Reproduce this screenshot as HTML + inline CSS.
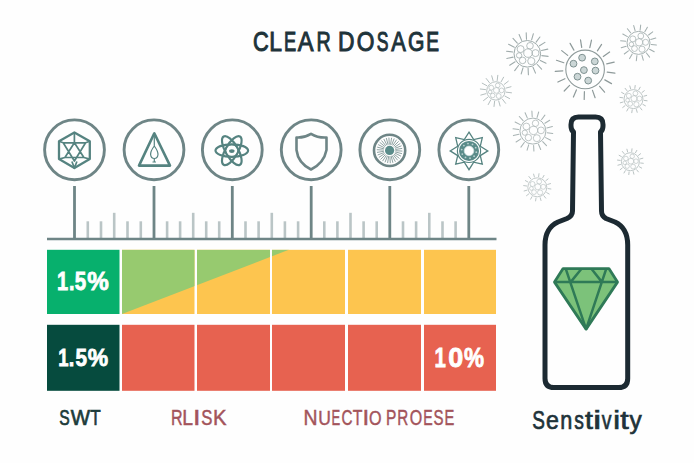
<!DOCTYPE html>
<html><head><meta charset="utf-8"><style>
html,body{margin:0;padding:0;background:#fefefe;}
svg{display:block;}
</style></head><body>
<svg width="694" height="463" viewBox="0 0 694 463">
<rect width="694" height="463" fill="#fefefe"/>
<text transform="translate(252.89 50.60) scale(0.815 1)" font-family="'Liberation Sans', sans-serif" font-size="26.74" fill="#1e333a" stroke="#1e333a" stroke-width="1.0">C</text>
<text transform="translate(269.32 50.60) scale(0.856 1)" font-family="'Liberation Sans', sans-serif" font-size="26.74" fill="#1e333a" stroke="#1e333a" stroke-width="1.0">L</text>
<text transform="translate(284.00 50.60) scale(0.683 1)" font-family="'Liberation Sans', sans-serif" font-size="26.74" fill="#1e333a" stroke="#1e333a" stroke-width="1.0">E</text>
<text transform="translate(297.75 50.60) scale(0.885 1)" font-family="'Liberation Sans', sans-serif" font-size="26.74" fill="#1e333a" stroke="#1e333a" stroke-width="1.0">A</text>
<text transform="translate(316.48 50.60) scale(0.738 1)" font-family="'Liberation Sans', sans-serif" font-size="26.74" fill="#1e333a" stroke="#1e333a" stroke-width="1.0">R</text>
<text transform="translate(337.93 50.60) scale(0.853 1)" font-family="'Liberation Sans', sans-serif" font-size="26.74" fill="#1e333a" stroke="#1e333a" stroke-width="1.0">D</text>
<text transform="translate(356.73 50.60) scale(0.849 1)" font-family="'Liberation Sans', sans-serif" font-size="26.74" fill="#1e333a" stroke="#1e333a" stroke-width="1.0">O</text>
<text transform="translate(376.69 50.60) scale(0.657 1)" font-family="'Liberation Sans', sans-serif" font-size="26.74" fill="#1e333a" stroke="#1e333a" stroke-width="1.0">S</text>
<text transform="translate(391.36 50.60) scale(0.818 1)" font-family="'Liberation Sans', sans-serif" font-size="26.74" fill="#1e333a" stroke="#1e333a" stroke-width="1.0">A</text>
<text transform="translate(407.94 50.60) scale(0.790 1)" font-family="'Liberation Sans', sans-serif" font-size="26.74" fill="#1e333a" stroke="#1e333a" stroke-width="1.0">G</text>
<text transform="translate(426.23 50.60) scale(0.717 1)" font-family="'Liberation Sans', sans-serif" font-size="26.74" fill="#1e333a" stroke="#1e333a" stroke-width="1.0">E</text>
<circle cx="74.5" cy="149.8" r="29.9" fill="none" stroke="#6e8586" stroke-width="2.9"/>
<line x1="74.5" y1="186" x2="74.5" y2="239" stroke="#6e8586" stroke-width="2.8"/>
<circle cx="154" cy="149.8" r="29.9" fill="none" stroke="#6e8586" stroke-width="2.9"/>
<line x1="154" y1="186" x2="154" y2="239" stroke="#6e8586" stroke-width="2.8"/>
<circle cx="232.3" cy="149.8" r="29.9" fill="none" stroke="#6e8586" stroke-width="2.9"/>
<line x1="232.3" y1="186" x2="232.3" y2="239" stroke="#6e8586" stroke-width="2.8"/>
<circle cx="311.2" cy="149.8" r="29.9" fill="none" stroke="#6e8586" stroke-width="2.9"/>
<line x1="311.2" y1="186" x2="311.2" y2="239" stroke="#6e8586" stroke-width="2.8"/>
<circle cx="389.8" cy="149.8" r="29.9" fill="none" stroke="#6e8586" stroke-width="2.9"/>
<line x1="389.8" y1="186" x2="389.8" y2="239" stroke="#6e8586" stroke-width="2.8"/>
<circle cx="468.8" cy="149.8" r="29.9" fill="none" stroke="#6e8586" stroke-width="2.9"/>
<line x1="468.8" y1="186" x2="468.8" y2="239" stroke="#6e8586" stroke-width="2.8"/>
<line x1="87.8" y1="221.3" x2="87.8" y2="239" stroke="#bac5c6" stroke-width="2.6"/>
<line x1="101.0" y1="221.3" x2="101.0" y2="239" stroke="#bac5c6" stroke-width="2.6"/>
<line x1="114.2" y1="212.8" x2="114.2" y2="239" stroke="#bac5c6" stroke-width="2.6"/>
<line x1="127.5" y1="221.3" x2="127.5" y2="239" stroke="#bac5c6" stroke-width="2.6"/>
<line x1="140.8" y1="221.3" x2="140.8" y2="239" stroke="#bac5c6" stroke-width="2.6"/>
<line x1="167.1" y1="221.3" x2="167.1" y2="239" stroke="#bac5c6" stroke-width="2.6"/>
<line x1="180.1" y1="221.3" x2="180.1" y2="239" stroke="#bac5c6" stroke-width="2.6"/>
<line x1="193.2" y1="212.8" x2="193.2" y2="239" stroke="#bac5c6" stroke-width="2.6"/>
<line x1="206.2" y1="221.3" x2="206.2" y2="239" stroke="#bac5c6" stroke-width="2.6"/>
<line x1="219.2" y1="221.3" x2="219.2" y2="239" stroke="#bac5c6" stroke-width="2.6"/>
<line x1="245.5" y1="221.3" x2="245.5" y2="239" stroke="#bac5c6" stroke-width="2.6"/>
<line x1="258.6" y1="221.3" x2="258.6" y2="239" stroke="#bac5c6" stroke-width="2.6"/>
<line x1="271.8" y1="212.8" x2="271.8" y2="239" stroke="#bac5c6" stroke-width="2.6"/>
<line x1="284.9" y1="221.3" x2="284.9" y2="239" stroke="#bac5c6" stroke-width="2.6"/>
<line x1="298.1" y1="221.3" x2="298.1" y2="239" stroke="#bac5c6" stroke-width="2.6"/>
<line x1="324.3" y1="221.3" x2="324.3" y2="239" stroke="#bac5c6" stroke-width="2.6"/>
<line x1="337.4" y1="221.3" x2="337.4" y2="239" stroke="#bac5c6" stroke-width="2.6"/>
<line x1="350.5" y1="212.8" x2="350.5" y2="239" stroke="#bac5c6" stroke-width="2.6"/>
<line x1="363.6" y1="221.3" x2="363.6" y2="239" stroke="#bac5c6" stroke-width="2.6"/>
<line x1="376.7" y1="221.3" x2="376.7" y2="239" stroke="#bac5c6" stroke-width="2.6"/>
<line x1="403.0" y1="221.3" x2="403.0" y2="239" stroke="#bac5c6" stroke-width="2.6"/>
<line x1="416.1" y1="221.3" x2="416.1" y2="239" stroke="#bac5c6" stroke-width="2.6"/>
<line x1="429.3" y1="212.8" x2="429.3" y2="239" stroke="#bac5c6" stroke-width="2.6"/>
<line x1="442.5" y1="221.3" x2="442.5" y2="239" stroke="#bac5c6" stroke-width="2.6"/>
<line x1="455.6" y1="221.3" x2="455.6" y2="239" stroke="#bac5c6" stroke-width="2.6"/>
<line x1="47" y1="239" x2="496.5" y2="239" stroke="#6e8586" stroke-width="2.3"/>
<rect x="47" y="249.8" width="72.5" height="64.19999999999999" fill="#07b06d"/>
<rect x="122" y="249.8" width="72.5" height="64.19999999999999" fill="#fdc54f"/>
<rect x="197" y="249.8" width="73" height="64.19999999999999" fill="#fdc54f"/>
<rect x="272" y="249.8" width="73" height="64.19999999999999" fill="#fdc54f"/>
<rect x="348" y="249.8" width="73" height="64.19999999999999" fill="#fdc54f"/>
<rect x="424" y="249.8" width="72" height="64.19999999999999" fill="#fdc54f"/>
<clipPath id="row1"><rect x="122" y="249.8" width="72.5" height="64.2"/><rect x="197" y="249.8" width="73" height="64.2"/><rect x="272" y="249.8" width="73" height="64.2"/></clipPath>
<polygon clip-path="url(#row1)" points="122,249.5 122,314 289.5,249.5" fill="#97ca6f"/>
<rect x="47" y="324.8" width="72.5" height="66.0" fill="#064b3e"/>
<rect x="122" y="324.8" width="72.5" height="66.0" fill="#e76250"/>
<rect x="197" y="324.8" width="73" height="66.0" fill="#e76250"/>
<rect x="272" y="324.8" width="73" height="66.0" fill="#e76250"/>
<rect x="348" y="324.8" width="73" height="66.0" fill="#e76250"/>
<rect x="424" y="324.8" width="72" height="66.0" fill="#e76250"/>
<text transform="translate(57.04 289.90) scale(0.777 1)" font-family="'Liberation Sans', sans-serif" font-weight="bold" font-size="25.73" fill="#ffffff" stroke="#ffffff" stroke-width="0.8">1</text>
<text transform="translate(69.05 289.90) scale(0.772 1)" font-family="'Liberation Sans', sans-serif" font-weight="bold" font-size="25.73" fill="#ffffff" stroke="#ffffff" stroke-width="0.8">.</text>
<text transform="translate(74.86 289.90) scale(0.798 1)" font-family="'Liberation Sans', sans-serif" font-weight="bold" font-size="25.73" fill="#ffffff" stroke="#ffffff" stroke-width="0.8">5</text>
<text transform="translate(87.19 289.90) scale(0.942 1)" font-family="'Liberation Sans', sans-serif" font-weight="bold" font-size="25.73" fill="#ffffff" stroke="#ffffff" stroke-width="0.8">%</text>
<text transform="translate(58.13 365.60) scale(0.762 1)" font-family="'Liberation Sans', sans-serif" font-weight="bold" font-size="24.27" fill="#ffffff" stroke="#ffffff" stroke-width="0.8">1</text>
<text transform="translate(68.85 365.60) scale(0.818 1)" font-family="'Liberation Sans', sans-serif" font-weight="bold" font-size="24.27" fill="#ffffff" stroke="#ffffff" stroke-width="0.8">.</text>
<text transform="translate(75.46 365.60) scale(0.854 1)" font-family="'Liberation Sans', sans-serif" font-weight="bold" font-size="24.27" fill="#ffffff" stroke="#ffffff" stroke-width="0.8">5</text>
<text transform="translate(87.63 365.60) scale(0.944 1)" font-family="'Liberation Sans', sans-serif" font-weight="bold" font-size="24.27" fill="#ffffff" stroke="#ffffff" stroke-width="0.8">%</text>
<text transform="translate(434.61 366.60) scale(0.764 1)" font-family="'Liberation Sans', sans-serif" font-weight="bold" font-size="26.74" fill="#ffffff" stroke="#ffffff" stroke-width="0.8">1</text>
<text transform="translate(448.22 366.60) scale(1.008 1)" font-family="'Liberation Sans', sans-serif" font-weight="bold" font-size="26.74" fill="#ffffff" stroke="#ffffff" stroke-width="0.8">0</text>
<text transform="translate(463.94 366.60) scale(0.843 1)" font-family="'Liberation Sans', sans-serif" font-weight="bold" font-size="26.74" fill="#ffffff" stroke="#ffffff" stroke-width="0.8">%</text>
<text transform="translate(59.33 425.45) scale(0.695 1)" font-family="'Liberation Sans', sans-serif" font-size="22.53" fill="#1c3b3a" stroke="#1c3b3a" stroke-width="0.7">S</text>
<text transform="translate(70.75 425.45) scale(0.907 1)" font-family="'Liberation Sans', sans-serif" font-size="22.53" fill="#1c3b3a" stroke="#1c3b3a" stroke-width="0.7">W</text>
<text transform="translate(90.27 425.45) scale(0.761 1)" font-family="'Liberation Sans', sans-serif" font-size="22.53" fill="#1c3b3a" stroke="#1c3b3a" stroke-width="0.7">T</text>
<text transform="translate(171.00 425.47) scale(0.731 1)" font-family="'Liberation Sans', sans-serif" font-size="22.02" fill="#a3545b" stroke="#a3545b" stroke-width="0.45">R</text>
<text transform="translate(182.34 425.47) scale(0.880 1)" font-family="'Liberation Sans', sans-serif" font-size="22.02" fill="#a3545b" stroke="#a3545b" stroke-width="0.45">L</text>
<text transform="translate(193.03 425.47) scale(1.232 1)" font-family="'Liberation Sans', sans-serif" font-size="22.02" fill="#a3545b" stroke="#a3545b" stroke-width="0.45">I</text>
<text transform="translate(201.25 425.47) scale(0.762 1)" font-family="'Liberation Sans', sans-serif" font-size="22.02" fill="#a3545b" stroke="#a3545b" stroke-width="0.45">S</text>
<text transform="translate(212.96 425.47) scale(0.923 1)" font-family="'Liberation Sans', sans-serif" font-size="22.02" fill="#a3545b" stroke="#a3545b" stroke-width="0.45">K</text>
<text transform="translate(303.53 424.77) scale(0.918 1)" font-family="'Liberation Sans', sans-serif" font-size="21.15" fill="#a3545b" stroke="#a3545b" stroke-width="0.45">N</text>
<text transform="translate(318.28 424.77) scale(0.828 1)" font-family="'Liberation Sans', sans-serif" font-size="21.15" fill="#a3545b" stroke="#a3545b" stroke-width="0.45">U</text>
<text transform="translate(331.56 424.77) scale(0.615 1)" font-family="'Liberation Sans', sans-serif" font-size="21.15" fill="#a3545b" stroke="#a3545b" stroke-width="0.45">E</text>
<text transform="translate(341.55 424.77) scale(0.721 1)" font-family="'Liberation Sans', sans-serif" font-size="21.15" fill="#a3545b" stroke="#a3545b" stroke-width="0.45">C</text>
<text transform="translate(352.68 424.77) scale(0.748 1)" font-family="'Liberation Sans', sans-serif" font-size="21.15" fill="#a3545b" stroke="#a3545b" stroke-width="0.45">T</text>
<text transform="translate(362.52 424.77) scale(1.132 1)" font-family="'Liberation Sans', sans-serif" font-size="21.15" fill="#a3545b" stroke="#a3545b" stroke-width="0.45">I</text>
<text transform="translate(368.96 424.77) scale(0.765 1)" font-family="'Liberation Sans', sans-serif" font-size="21.15" fill="#a3545b" stroke="#a3545b" stroke-width="0.45">O</text>
<text transform="translate(385.95 424.77) scale(0.733 1)" font-family="'Liberation Sans', sans-serif" font-size="21.15" fill="#a3545b" stroke="#a3545b" stroke-width="0.45">P</text>
<text transform="translate(397.27 424.77) scale(0.722 1)" font-family="'Liberation Sans', sans-serif" font-size="21.15" fill="#a3545b" stroke="#a3545b" stroke-width="0.45">R</text>
<text transform="translate(409.87 424.77) scale(0.758 1)" font-family="'Liberation Sans', sans-serif" font-size="21.15" fill="#a3545b" stroke="#a3545b" stroke-width="0.45">O</text>
<text transform="translate(423.27 424.77) scale(0.667 1)" font-family="'Liberation Sans', sans-serif" font-size="21.15" fill="#a3545b" stroke="#a3545b" stroke-width="0.45">E</text>
<text transform="translate(433.43 424.77) scale(0.711 1)" font-family="'Liberation Sans', sans-serif" font-size="21.15" fill="#a3545b" stroke="#a3545b" stroke-width="0.45">S</text>
<text transform="translate(444.62 424.77) scale(0.694 1)" font-family="'Liberation Sans', sans-serif" font-size="21.15" fill="#a3545b" stroke="#a3545b" stroke-width="0.45">E</text>
<text transform="translate(532.28 429.15) scale(0.735 1)" font-family="'Liberation Sans', sans-serif" font-size="25.80" fill="#1e333a" stroke="#1e333a" stroke-width="0.7">S</text>
<text transform="translate(545.98 429.15) scale(0.899 1)" font-family="'Liberation Sans', sans-serif" font-size="25.80" fill="#1e333a" stroke="#1e333a" stroke-width="0.7">e</text>
<text transform="translate(560.22 429.15) scale(0.839 1)" font-family="'Liberation Sans', sans-serif" font-size="25.80" fill="#1e333a" stroke="#1e333a" stroke-width="0.7">n</text>
<text transform="translate(574.31 429.15) scale(0.747 1)" font-family="'Liberation Sans', sans-serif" font-size="25.80" fill="#1e333a" stroke="#1e333a" stroke-width="0.7">s</text>
<text transform="translate(585.02 429.15) scale(1.105 1)" font-family="'Liberation Sans', sans-serif" font-size="25.80" fill="#1e333a" stroke="#1e333a" stroke-width="0.7">t</text>
<text transform="translate(593.29 429.15) scale(1.365 1)" font-family="'Liberation Sans', sans-serif" font-size="25.80" fill="#1e333a" stroke="#1e333a" stroke-width="0.7">i</text>
<text transform="translate(601.77 429.15) scale(0.756 1)" font-family="'Liberation Sans', sans-serif" font-size="25.80" fill="#1e333a" stroke="#1e333a" stroke-width="0.7">v</text>
<text transform="translate(613.19 429.15) scale(1.189 1)" font-family="'Liberation Sans', sans-serif" font-size="25.80" fill="#1e333a" stroke="#1e333a" stroke-width="0.7">i</text>
<text transform="translate(620.29 429.15) scale(1.181 1)" font-family="'Liberation Sans', sans-serif" font-size="25.80" fill="#1e333a" stroke="#1e333a" stroke-width="0.7">t</text>
<text transform="translate(629.58 429.15) scale(0.947 1)" font-family="'Liberation Sans', sans-serif" font-size="25.80" fill="#1e333a" stroke="#1e333a" stroke-width="0.7">y</text>
<path d="M 573.5 132 L 572.5 211 Q 572.5 216 567 218.5 L 558 222 Q 545 228 545 245 L 545 378.5 Q 545 387.6 554 387.6 L 618.7 387.6 Q 627.7 387.6 627.7 378.5 L 627.7 245 Q 627.7 228 615 222 L 606 218.5 Q 601.5 216 601.5 211 L 600.5 132 Q 603 130 603 126 L 603 124.5 Q 603 117 595.5 117 L 578.5 117 Q 571 117 571 124.5 L 571 126 Q 571 130 573.5 132 Z" fill="none" stroke="#1c2a32" stroke-width="5" stroke-linejoin="round"/>
<polygon points="563.1,268.6 608.9,268.6 617.5,282.1 586.1,329.1 554.5,282.1" fill="#7cc27a" stroke="#2f7a57" stroke-width="2.8" stroke-linejoin="round"/>
<path d="M554.5 282.1 L617.5 282.1 M565.7 268.6 L586.1 329.1 M606.3 268.6 L586.1 329.1 M581.3 269 L570.6 282.1 M591.6 269 L602 282.1" fill="none" stroke="#2f7a57" stroke-width="2.5"/>
<polygon points="74.4,132.4 89.8,141.3 89.8,159.1 74.4,168.0 59.0,159.1 59.0,141.3" fill="none" stroke="#558380" stroke-width="2.3" stroke-linejoin="round"/>
<path d="M63.2 142.8 L85.60000000000001 142.8 M74.4 132.39999999999998 L74.4 142.8 M63.2 142.8 L74.4 161 L85.60000000000001 142.8 M74.4 142.8 L64.9 157.5 L83.9 157.5 Z M71.9 161.5 L74.4 168.0 L76.9 161.5 M59.00000000000001 159.1 L64.9 157.5 M89.80000000000001 159.1 L83.9 157.5 M59.00000000000001 141.29999999999998 L63.2 142.8 M89.80000000000001 141.29999999999998 L85.60000000000001 142.8" fill="none" stroke="#558380" stroke-width="1.7" stroke-linejoin="round"/>
<polygon points="154.3,133.3 139,165.6 170,165.6" fill="none" stroke="#558380" stroke-width="2.6" stroke-linejoin="round"/>
<path d="M154.3 135 L154.3 146 M154.3 146 Q150.5 151 150.6 154.5 Q151 158.5 154.3 158.5 Q157.6 158.5 158 154.5 Q158 151 154.3 146 M154.3 158.5 L154.3 162 M152.5 162 L156 162" fill="none" stroke="#558380" stroke-width="1.2"/>
<ellipse cx="231.8" cy="150.6" rx="16.3" ry="6.3" transform="rotate(0 231.8 150.6)" fill="none" stroke="#558380" stroke-width="2.2"/>
<ellipse cx="231.8" cy="150.6" rx="16.3" ry="6.3" transform="rotate(60 231.8 150.6)" fill="none" stroke="#558380" stroke-width="2.2"/>
<ellipse cx="231.8" cy="150.6" rx="16.3" ry="6.3" transform="rotate(120 231.8 150.6)" fill="none" stroke="#558380" stroke-width="2.2"/>
<circle cx="231.8" cy="150.6" r="6.2" fill="none" stroke="#558380" stroke-width="1.3"/>
<ellipse cx="231.8" cy="151.1" rx="2.8" ry="1.9" fill="#558380"/>
<path d="M311 133.8 Q304 138 296.5 137.5 L296.5 150 Q298 163 311 169.5 Q324 163 326.5 150 L326.5 137.5 Q318 138 311 133.8 Z" fill="none" stroke="#6e8586" stroke-width="2.6" stroke-linejoin="round"/>
<circle cx="389.6" cy="150.4" r="15.6" fill="none" stroke="#6e8586" stroke-width="2.6"/>
<path d="M395.4 150.7 L402.4 151.1 M395.2 151.9 L402.0 153.7 M394.8 153.0 L401.0 156.2 M394.1 154.1 L399.5 158.5 M393.3 154.9 L397.7 160.3 M392.2 155.6 L395.4 161.8 M391.1 156.0 L392.9 162.8 M389.9 156.2 L390.3 163.2 M388.7 156.1 L387.6 163.0 M387.5 155.8 L385.0 162.3 M386.4 155.3 L382.6 161.1 M385.5 154.5 L380.5 159.5 M384.7 153.6 L378.9 157.4 M384.2 152.5 L377.7 155.0 M383.9 151.3 L377.0 152.4 M383.8 150.1 L376.8 149.7 M384.0 148.9 L377.2 147.1 M384.4 147.8 L378.2 144.6 M385.1 146.7 L379.7 142.3 M385.9 145.9 L381.5 140.5 M387.0 145.2 L383.8 139.0 M388.1 144.8 L386.3 138.0 M389.3 144.6 L388.9 137.6 M390.5 144.7 L391.6 137.8 M391.7 145.0 L394.2 138.5 M392.8 145.5 L396.6 139.7 M393.7 146.3 L398.7 141.3 M394.5 147.2 L400.3 143.4 M395.0 148.3 L401.5 145.8 M395.3 149.5 L402.2 148.4" stroke="#8fa3a3" stroke-width="1"/>
<circle cx="389.6" cy="150.4" r="4.6" fill="#5a8c8a"/>
<polygon points="469.0,132.1 473.7,139.6 482.3,137.6 480.3,146.2 487.8,150.9 480.3,155.6 482.3,164.2 473.7,162.2 469.0,169.7 464.3,162.2 455.7,164.2 457.7,155.6 450.2,150.9 457.7,146.2 455.7,137.6 464.3,139.6" fill="#ffffff" stroke="#558380" stroke-width="1.3" stroke-linejoin="miter"/>
<circle cx="469" cy="150.9" r="11.6" fill="#ffffff" stroke="#558380" stroke-width="1.2"/>
<circle cx="469" cy="150.9" r="10" fill="#5a8b89"/>
<circle cx="469" cy="150.9" r="4.8" fill="#ffffff" stroke="#cfe0e0" stroke-width="0.8"/>
<circle cx="476.3" cy="152.2" r="0.9" fill="#bcd2d2"/>
<circle cx="474.1" cy="156.2" r="0.9" fill="#bcd2d2"/>
<circle cx="470.0" cy="158.2" r="0.9" fill="#bcd2d2"/>
<circle cx="465.5" cy="157.4" r="0.9" fill="#bcd2d2"/>
<circle cx="462.3" cy="154.1" r="0.9" fill="#bcd2d2"/>
<circle cx="461.7" cy="149.6" r="0.9" fill="#bcd2d2"/>
<circle cx="463.9" cy="145.6" r="0.9" fill="#bcd2d2"/>
<circle cx="468.0" cy="143.6" r="0.9" fill="#bcd2d2"/>
<circle cx="472.5" cy="144.4" r="0.9" fill="#bcd2d2"/>
<circle cx="475.7" cy="147.7" r="0.9" fill="#bcd2d2"/>
<circle cx="585.1" cy="69.4" r="19.3" fill="none" stroke="#8e9a9a" stroke-width="1.1"/>
<path d="M607.2 72.1 L614.9 73.1 M604.8 79.9 L611.5 83.6 M599.6 86.3 L604.6 92.2 M592.5 90.4 L595.1 97.7 M584.4 91.7 L584.2 99.4 M576.4 89.9 L573.4 97.0 M569.6 85.4 L564.2 91.0 M564.9 78.7 L557.9 82.0 M562.8 70.8 L555.2 71.3 M563.8 62.7 L556.5 60.3 M567.7 55.4 L561.7 50.6 M573.9 50.1 L570.1 43.4 M581.7 47.4 L580.5 39.8 M589.8 47.6 L591.5 40.1 M597.4 50.8 L601.6 44.4 M603.3 56.5 L609.6 52.0 M606.7 63.9 L614.2 62.1" stroke="#8e9a9a" stroke-width="1.21" stroke-linecap="round"/>
<circle cx="582.1" cy="57.7" r="3.4" fill="#cbd6d6" stroke="#7f9191" stroke-width="1"/>
<circle cx="573.5" cy="63.7" r="3.4" fill="#cbd6d6" stroke="#7f9191" stroke-width="1"/>
<circle cx="594.8000000000001" cy="61.400000000000006" r="3.4" fill="#cbd6d6" stroke="#7f9191" stroke-width="1"/>
<circle cx="583.9" cy="70.10000000000001" r="3.4" fill="#cbd6d6" stroke="#7f9191" stroke-width="1"/>
<circle cx="595.5" cy="70.60000000000001" r="3.4" fill="#cbd6d6" stroke="#7f9191" stroke-width="1"/>
<circle cx="577.5" cy="76.7" r="3.4" fill="#cbd6d6" stroke="#7f9191" stroke-width="1"/>
<circle cx="588.2" cy="80.60000000000001" r="3.4" fill="#cbd6d6" stroke="#7f9191" stroke-width="1"/>
<circle cx="527.3" cy="53.8" r="13.3" fill="none" stroke="#9fabab" stroke-width="1.0"/>
<path d="M541.8 55.6 L548.1 56.4 M540.3 60.4 L546.0 63.3 M537.3 64.5 L541.6 69.2 M533.0 67.2 L535.5 73.1 M528.1 68.4 L528.4 74.8 M523.0 67.8 L521.2 73.9 M518.5 65.5 L514.7 70.6 M515.1 61.8 L509.7 65.2 M513.1 57.1 L506.8 58.5 M512.8 52.0 L506.5 51.2 M514.3 47.2 L508.6 44.3 M517.3 43.1 L513.0 38.4 M521.6 40.4 L519.1 34.5 M526.5 39.2 L526.2 32.8 M531.6 39.8 L533.4 33.7 M536.1 42.1 L539.9 37.0 M539.5 45.8 L544.9 42.4 M541.5 50.5 L547.8 49.1" stroke="#9fabab" stroke-width="1.10" stroke-linecap="round"/>
<circle cx="528.0" cy="53.1" r="4.3" fill="none" stroke="#9fabab" stroke-width="0.75"/>
<circle cx="520.6" cy="49.1" r="3.5" fill="none" stroke="#9fabab" stroke-width="0.75"/>
<circle cx="530.0" cy="45.8" r="3.3" fill="none" stroke="#9fabab" stroke-width="0.75"/>
<circle cx="535.5" cy="53.1" r="3.5" fill="none" stroke="#9fabab" stroke-width="0.75"/>
<circle cx="531.3" cy="61.1" r="3.6" fill="none" stroke="#9fabab" stroke-width="0.75"/>
<circle cx="522.6" cy="60.4" r="3.3" fill="none" stroke="#9fabab" stroke-width="0.75"/>
<circle cx="519.1" cy="55.4" r="2.7" fill="none" stroke="#9fabab" stroke-width="0.75"/>
<circle cx="638.5" cy="42.9" r="11.5" fill="none" stroke="#a3afaf" stroke-width="0.95"/>
<path d="M651.2 44.5 L656.4 45.1 M649.6 49.2 L654.2 51.8 M646.4 53.0 L649.6 57.1 M641.9 55.2 L643.3 60.2 M636.9 55.6 L636.3 60.8 M632.2 54.0 L629.6 58.6 M628.4 50.8 L624.3 54.0 M626.2 46.3 L621.2 47.7 M625.8 41.3 L620.6 40.7 M627.4 36.6 L622.8 34.0 M630.6 32.8 L627.4 28.7 M635.1 30.6 L633.7 25.6 M640.1 30.2 L640.7 25.0 M644.8 31.8 L647.4 27.2 M648.6 35.0 L652.7 31.8 M650.8 39.5 L655.8 38.1" stroke="#a3afaf" stroke-width="1.04" stroke-linecap="round"/>
<circle cx="639.1" cy="42.3" r="3.7" fill="none" stroke="#a3afaf" stroke-width="0.71"/>
<circle cx="632.8" cy="38.9" r="3.0" fill="none" stroke="#a3afaf" stroke-width="0.71"/>
<circle cx="640.8" cy="36.0" r="2.9" fill="none" stroke="#a3afaf" stroke-width="0.71"/>
<circle cx="645.6" cy="42.3" r="3.0" fill="none" stroke="#a3afaf" stroke-width="0.71"/>
<circle cx="642.0" cy="49.2" r="3.1" fill="none" stroke="#a3afaf" stroke-width="0.71"/>
<circle cx="634.5" cy="48.6" r="2.9" fill="none" stroke="#a3afaf" stroke-width="0.71"/>
<circle cx="631.4" cy="44.3" r="2.3" fill="none" stroke="#a3afaf" stroke-width="0.71"/>
<circle cx="495.9" cy="90.9" r="9.2" fill="none" stroke="#b3bdbd" stroke-width="0.9"/>
<path d="M506.3 92.2 L511.5 92.8 M505.0 96.1 L509.6 98.6 M502.4 99.2 L505.6 103.3 M498.7 101.0 L500.1 106.0 M494.6 101.3 L494.0 106.5 M490.7 100.0 L488.2 104.6 M487.6 97.4 L483.5 100.6 M485.8 93.7 L480.8 95.1 M485.5 89.6 L480.3 89.0 M486.8 85.7 L482.2 83.2 M489.4 82.6 L486.2 78.5 M493.1 80.8 L491.7 75.8 M497.2 80.5 L497.8 75.3 M501.1 81.8 L503.6 77.2 M504.2 84.4 L508.3 81.2 M506.0 88.1 L511.0 86.7" stroke="#b3bdbd" stroke-width="0.99" stroke-linecap="round"/>
<circle cx="496.4" cy="90.4" r="2.9" fill="none" stroke="#b3bdbd" stroke-width="0.68"/>
<circle cx="491.3" cy="87.7" r="2.4" fill="none" stroke="#b3bdbd" stroke-width="0.68"/>
<circle cx="497.7" cy="85.4" r="2.3" fill="none" stroke="#b3bdbd" stroke-width="0.68"/>
<circle cx="501.6" cy="90.4" r="2.4" fill="none" stroke="#b3bdbd" stroke-width="0.68"/>
<circle cx="498.7" cy="96.0" r="2.5" fill="none" stroke="#b3bdbd" stroke-width="0.68"/>
<circle cx="492.7" cy="95.5" r="2.3" fill="none" stroke="#b3bdbd" stroke-width="0.68"/>
<circle cx="490.2" cy="92.0" r="1.8" fill="none" stroke="#b3bdbd" stroke-width="0.68"/>
<circle cx="633.5" cy="99.1" r="9.5" fill="none" stroke="#b3bdbd" stroke-width="0.85"/>
<path d="M644.2 100.4 L647.1 100.8 M642.9 104.4 L645.4 105.8 M640.1 107.6 L641.9 109.9 M636.4 109.5 L637.2 112.3 M632.2 109.8 L631.8 112.7 M628.2 108.5 L626.8 111.0 M625.0 105.7 L622.7 107.5 M623.1 102.0 L620.3 102.8 M622.8 97.8 L619.9 97.4 M624.1 93.8 L621.6 92.4 M626.9 90.6 L625.1 88.3 M630.6 88.7 L629.8 85.9 M634.8 88.4 L635.2 85.5 M638.8 89.7 L640.2 87.2 M642.0 92.5 L644.3 90.7 M643.9 96.2 L646.7 95.4" stroke="#b3bdbd" stroke-width="0.94" stroke-linecap="round"/>
<circle cx="634.0" cy="98.6" r="3.0" fill="none" stroke="#b3bdbd" stroke-width="0.64"/>
<circle cx="628.8" cy="95.8" r="2.5" fill="none" stroke="#b3bdbd" stroke-width="0.64"/>
<circle cx="635.4" cy="93.4" r="2.4" fill="none" stroke="#b3bdbd" stroke-width="0.64"/>
<circle cx="639.4" cy="98.6" r="2.5" fill="none" stroke="#b3bdbd" stroke-width="0.64"/>
<circle cx="636.4" cy="104.3" r="2.6" fill="none" stroke="#b3bdbd" stroke-width="0.64"/>
<circle cx="630.2" cy="103.8" r="2.4" fill="none" stroke="#b3bdbd" stroke-width="0.64"/>
<circle cx="627.6" cy="100.2" r="1.9" fill="none" stroke="#b3bdbd" stroke-width="0.64"/>
<circle cx="532.9" cy="131.1" r="13" fill="none" stroke="#a8b3b3" stroke-width="0.95"/>
<path d="M547.1 132.8 L552.8 133.5 M545.6 137.6 L550.7 140.2 M542.7 141.6 L546.5 145.7 M538.5 144.3 L540.7 149.5 M533.6 145.4 L533.9 151.1 M528.7 144.8 L527.1 150.2 M524.3 142.5 L520.9 147.1 M520.9 138.9 L516.1 142.0 M519.0 134.3 L513.4 135.6 M518.7 129.4 L513.0 128.7 M520.2 124.6 L515.1 122.0 M523.1 120.6 L519.3 116.5 M527.3 117.9 L525.1 112.7 M532.2 116.8 L531.9 111.1 M537.1 117.4 L538.7 112.0 M541.5 119.7 L544.9 115.1 M544.9 123.3 L549.7 120.2 M546.8 127.9 L552.4 126.6" stroke="#a8b3b3" stroke-width="1.04" stroke-linecap="round"/>
<circle cx="533.5" cy="130.4" r="4.2" fill="none" stroke="#a8b3b3" stroke-width="0.71"/>
<circle cx="526.4" cy="126.5" r="3.4" fill="none" stroke="#a8b3b3" stroke-width="0.71"/>
<circle cx="535.5" cy="123.3" r="3.2" fill="none" stroke="#a8b3b3" stroke-width="0.71"/>
<circle cx="541.0" cy="130.4" r="3.4" fill="none" stroke="#a8b3b3" stroke-width="0.71"/>
<circle cx="536.8" cy="138.2" r="3.5" fill="none" stroke="#a8b3b3" stroke-width="0.71"/>
<circle cx="528.4" cy="137.6" r="3.2" fill="none" stroke="#a8b3b3" stroke-width="0.71"/>
<circle cx="524.8" cy="132.7" r="2.6" fill="none" stroke="#a8b3b3" stroke-width="0.71"/>
<circle cx="630.4" cy="161.7" r="9" fill="none" stroke="#b5bfbf" stroke-width="0.85"/>
<path d="M640.6 163.0 L643.3 163.3 M639.4 166.8 L641.7 168.1 M636.7 169.8 L638.4 171.9 M633.2 171.6 L633.9 174.2 M629.1 171.9 L628.8 174.6 M625.3 170.7 L624.0 173.0 M622.3 168.0 L620.2 169.7 M620.5 164.5 L617.9 165.2 M620.2 160.4 L617.5 160.1 M621.4 156.6 L619.1 155.3 M624.1 153.6 L622.4 151.5 M627.6 151.8 L626.9 149.2 M631.7 151.5 L632.0 148.8 M635.5 152.7 L636.8 150.4 M638.5 155.4 L640.6 153.7 M640.3 158.9 L642.9 158.2" stroke="#b5bfbf" stroke-width="0.94" stroke-linecap="round"/>
<circle cx="630.9" cy="161.2" r="2.9" fill="none" stroke="#b5bfbf" stroke-width="0.64"/>
<circle cx="625.9" cy="158.5" r="2.3" fill="none" stroke="#b5bfbf" stroke-width="0.64"/>
<circle cx="632.2" cy="156.3" r="2.2" fill="none" stroke="#b5bfbf" stroke-width="0.64"/>
<circle cx="636.0" cy="161.2" r="2.3" fill="none" stroke="#b5bfbf" stroke-width="0.64"/>
<circle cx="633.1" cy="166.6" r="2.4" fill="none" stroke="#b5bfbf" stroke-width="0.64"/>
<circle cx="627.2" cy="166.2" r="2.2" fill="none" stroke="#b5bfbf" stroke-width="0.64"/>
<circle cx="624.8" cy="162.8" r="1.8" fill="none" stroke="#b5bfbf" stroke-width="0.64"/>
<circle cx="537.3" cy="187.3" r="9.5" fill="none" stroke="#b8c1c1" stroke-width="0.85"/>
<path d="M548.0 188.6 L550.9 189.0 M546.7 192.6 L549.2 194.0 M543.9 195.8 L545.7 198.1 M540.2 197.7 L541.0 200.5 M536.0 198.0 L535.6 200.9 M532.0 196.7 L530.6 199.2 M528.8 193.9 L526.5 195.7 M526.9 190.2 L524.1 191.0 M526.6 186.0 L523.7 185.6 M527.9 182.0 L525.4 180.6 M530.7 178.8 L528.9 176.5 M534.4 176.9 L533.6 174.1 M538.6 176.6 L539.0 173.7 M542.6 177.9 L544.0 175.4 M545.8 180.7 L548.1 178.9 M547.7 184.4 L550.5 183.6" stroke="#b8c1c1" stroke-width="0.94" stroke-linecap="round"/>
<circle cx="537.8" cy="186.8" r="3.0" fill="none" stroke="#b8c1c1" stroke-width="0.64"/>
<circle cx="532.5" cy="184.0" r="2.5" fill="none" stroke="#b8c1c1" stroke-width="0.64"/>
<circle cx="539.2" cy="181.6" r="2.4" fill="none" stroke="#b8c1c1" stroke-width="0.64"/>
<circle cx="543.2" cy="186.8" r="2.5" fill="none" stroke="#b8c1c1" stroke-width="0.64"/>
<circle cx="540.1" cy="192.5" r="2.6" fill="none" stroke="#b8c1c1" stroke-width="0.64"/>
<circle cx="534.0" cy="192.1" r="2.4" fill="none" stroke="#b8c1c1" stroke-width="0.64"/>
<circle cx="531.4" cy="188.4" r="1.9" fill="none" stroke="#b8c1c1" stroke-width="0.64"/>
</svg>
</body></html>
